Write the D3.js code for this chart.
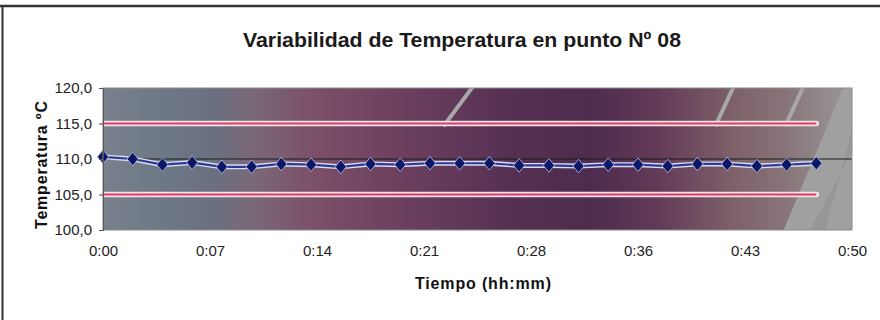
<!DOCTYPE html>
<html>
<head>
<meta charset="utf-8">
<script src="https://cdn.jsdelivr.net/npm/d3@7"></script>
<style>
  body { margin: 0; background: #fff; }
  svg { display: block; }
</style>
</head>
<body>
<script>
// data
const minutes = [0, 2, 4, 6, 8, 10, 12, 14, 16, 18, 20, 22, 24, 26, 28, 30, 32, 34, 36, 38, 40, 42, 44, 46, 48];
const temps = [110.3, 110.0, 109.2, 109.5, 108.9, 108.9, 109.3, 109.2, 108.9, 109.3, 109.2, 109.4, 109.4,
               109.4, 109.1, 109.1, 109.0, 109.2, 109.2, 109.0, 109.3, 109.3, 109.0, 109.2, 109.4];
const upperLimit = 115;
const lowerLimit = 105;
const nominal = 110;
const xTickMinutes = [0, 7.2, 14.4, 21.6, 28.8, 36, 43.2, 50.4];
const xTickLabels = ["0:00", "0:07", "0:14", "0:21", "0:28", "0:36", "0:43", "0:50"];
const yTicks = [100, 105, 110, 115, 120];

//configuration
let width = 880;
let height = 320;
let plotLeft = 103, plotRight = 852, plotTop = 88, plotBottom = 230;
let font = "'Liberation Sans', Arial, sans-serif";

let x = d3.scaleLinear().domain([0, 50.4]).range([plotLeft, plotRight]);
let y = d3.scaleLinear().domain([100, 120]).range([plotBottom, plotTop]);
let commaFmt = d => d3.format(".1f")(d).replace(".", ",");

const svg = d3.select("body").append("svg")
  .attr("width", width)
  .attr("height", height);

const defs = svg.append("defs");
const grad = defs.append("linearGradient")
  .attr("id", "bg")
  .attr("x1", "0%").attr("x2", "100%").attr("y1", "0%").attr("y2", "0%");
[["0%", "#78818c"], ["8%", "#6e7886"], ["15%", "#6b7080"], ["20%", "#7a6878"], ["28%", "#7c5068"],
 ["40%", "#6c3f5e"], ["55%", "#553053"], ["65%", "#4d2c4e"], ["74%", "#623a57"], ["84%", "#7d6068"],
 ["91%", "#887478"], ["100%", "#999999"]]
  .forEach(s => grad.append("stop").attr("offset", s[0]).attr("stop-color", s[1]));

defs.append("clipPath").attr("id", "plotClip")
  .append("rect")
  .attr("x", plotLeft).attr("y", plotTop)
  .attr("width", plotRight - plotLeft).attr("height", plotBottom - plotTop);

// outer frame
svg.append("line").attr("x1", 0).attr("x2", width).attr("y1", 6).attr("y2", 6)
  .attr("stroke", "#333").attr("stroke-width", 2.5);
svg.append("line").attr("x1", 2.5).attr("x2", 2.5).attr("y1", 6).attr("y2", height)
  .attr("stroke", "#333").attr("stroke-width", 2);

// title
svg.append("text")
  .attr("x", 462).attr("y", 47)
  .attr("text-anchor", "middle")
  .attr("font-family", "'Liberation Sans Narrow', 'Arial Narrow', " + font)
  .attr("font-weight", "bold")
  .attr("font-size", 20)
  .attr("fill", "#1a1a1a")
  .attr("textLength", 438)
  .attr("lengthAdjust", "spacingAndGlyphs")
  .text("Variabilidad de Temperatura en punto Nº 08");

// plot background
const plot = svg.append("g");
plot.append("rect")
  .attr("x", plotLeft).attr("y", plotTop)
  .attr("width", plotRight - plotLeft).attr("height", plotBottom - plotTop)
  .attr("fill", "url(#bg)");

const tex = plot.append("g").attr("clip-path", "url(#plotClip)");
// grey hatched texture at the right end
tex.append("path")
  .attr("d", `M${x(45.8)},${plotBottom} L${x(49.8)},${plotTop} L${plotRight},${plotTop} L${plotRight},${plotBottom} Z`)
  .attr("fill", "#a0a0a0");
tex.append("path")
  .attr("d", `M${x(48.6)},${plotBottom} L${plotRight},${y(114)} L${plotRight},${y(111)} L${x(47.6)},${plotBottom} Z`)
  .attr("fill", "#8c9092").attr("opacity", 0.6);
[[22.9, 25.0], [41.2, 42.5], [45.9, 47.2]].forEach(s => {
  tex.append("line")
    .attr("x1", x(s[0])).attr("y1", y(114.6))
    .attr("x2", x(s[1])).attr("y2", y(120.5))
    .attr("stroke", "#a8a8a8").attr("stroke-width", 4);
});

// nominal line across the full plot
plot.append("line")
  .attr("x1", x(0)).attr("x2", plotRight)
  .attr("y1", y(nominal)).attr("y2", y(nominal))
  .attr("stroke", "#1b1b1b").attr("stroke-width", 1.2);

// limit lines
[upperLimit, lowerLimit].forEach(v => {
  plot.append("line")
    .attr("x1", x(minutes[0])).attr("x2", x(minutes[minutes.length - 1]))
    .attr("y1", y(v)).attr("y2", y(v))
    .attr("stroke", "#efe6ec").attr("stroke-width", 5.5).attr("stroke-linecap", "round");
  plot.append("line")
    .attr("x1", x(minutes[0])).attr("x2", x(minutes[minutes.length - 1]))
    .attr("y1", y(v)).attr("y2", y(v))
    .attr("stroke", "#e23a62").attr("stroke-width", 2.2);
});

// temperature series
let line = d3.line().x((d, i) => x(minutes[i])).y(d => y(d));
plot.append("path")
  .attr("d", line(temps))
  .attr("fill", "none").attr("stroke", "#dcdcea").attr("stroke-width", 5);
plot.append("path")
  .attr("d", line(temps))
  .attr("fill", "none").attr("stroke", "#2a3a9a").attr("stroke-width", 2.2);
plot.selectAll(".pt")
  .data(temps)
  .join("path")
  .attr("class", "pt")
  .attr("d", d3.symbol(d3.symbolDiamond2, 90))
  .attr("transform", (d, i) => `translate(${x(minutes[i])},${y(d)}) scale(0.95,1.15)`)
  .attr("fill", "#0c1766")
  .attr("stroke", "#b8bce0").attr("stroke-width", 0.8);

// plot border
plot.append("rect")
  .attr("x", plotLeft).attr("y", plotTop)
  .attr("width", plotRight - plotLeft).attr("height", plotBottom - plotTop)
  .attr("fill", "none").attr("stroke", "#8a8a8a").attr("stroke-width", 1);

// y axis
const yAxis = svg.append("g")
  .attr("transform", `translate(${plotLeft},0)`)
  .call(d3.axisLeft(y).tickValues(yTicks).tickSize(4).tickPadding(7).tickFormat(commaFmt));
yAxis.select(".domain").attr("stroke", "#555");
yAxis.selectAll(".tick line").attr("stroke", "#555");
yAxis.selectAll("text")
  .attr("font-family", font).attr("font-size", 15).attr("fill", "#222");

// x axis
const xAxis = svg.append("g")
  .attr("transform", `translate(0,${plotBottom})`)
  .call(d3.axisBottom(x).tickValues(xTickMinutes).tickSize(0).tickPadding(15)
    .tickFormat((d, i) => xTickLabels[i]));
xAxis.select(".domain").remove();
xAxis.selectAll("text")
  .attr("font-family", font).attr("font-size", 15).attr("fill", "#222");

// axis titles
svg.append("text")
  .attr("x", 483).attr("y", 289)
  .attr("text-anchor", "middle")
  .attr("font-family", font).attr("font-weight", "bold").attr("font-size", 16)
  .attr("fill", "#111")
  .attr("textLength", 136)
  .text("Tiempo (hh:mm)");

svg.append("text")
  .attr("transform", "translate(47,165) rotate(-90)")
  .attr("text-anchor", "middle")
  .attr("font-family", font).attr("font-weight", "bold").attr("font-size", 16)
  .attr("fill", "#111")
  .attr("textLength", 128)
  .text("Temperatura ºC");
</script>
</body>
</html>
